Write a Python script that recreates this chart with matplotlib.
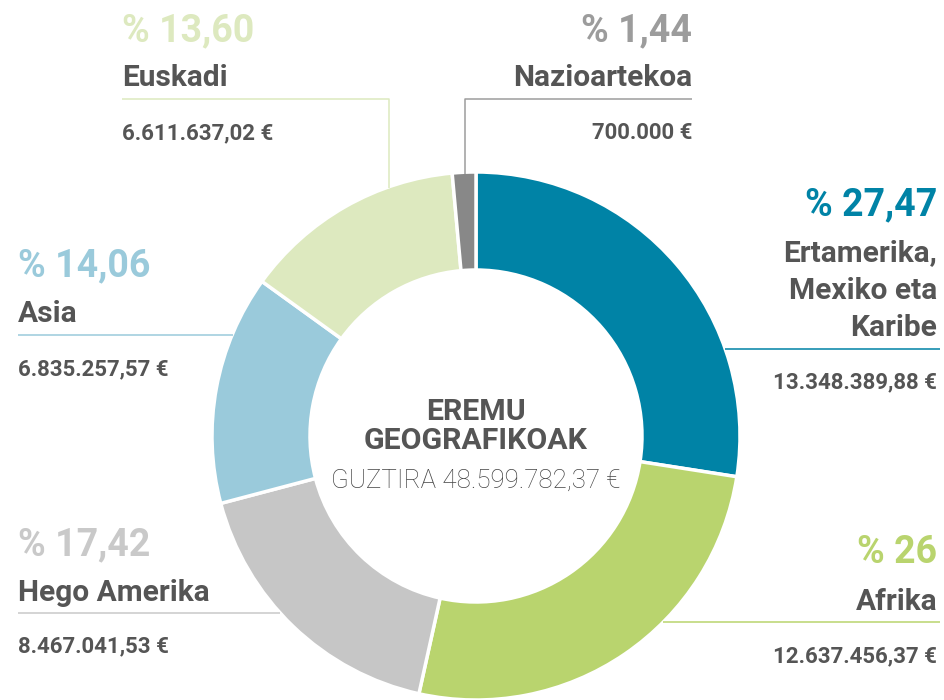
import matplotlib
matplotlib.use("Agg")
import matplotlib.pyplot as plt

# data, clockwise from the top
regions = ["Ertamerika,\nMexiko eta\nKaribe", "Afrika", "Hego Amerika",
           "Asia", "Euskadi", "Nazioartekoa"]
amounts = [13348389.88, 12637456.37, 8467041.53, 6835257.57, 6611637.02, 700000.00]
pct_labels = ["% 27,47", "% 26", "% 17,42", "% 14,06", "% 13,60", "% 1,44"]
amount_labels = ["13.348.389,88 €", "12.637.456,37 €", "8.467.041,53 €",
                 "6.835.257,57 €", "6.611.637,02 €", "700.000 €"]
total_label = "GUZTIRA 48.599.782,37 €"

slice_colors = ["#0083a6", "#b9d46e", "#c6c6c6", "#9acadb", "#dde9bf", "#888888"]
pct_colors = ["#0083a6", "#b9d46e", "#c9c9c9", "#9acadb", "#dde9bf", "#9c9c9c"]
line_colors = ["#0083a6", "#b9d46e", "#c9c9c9", "#9acadb", "#dde9bf", "#9c9c9c"]

TEXT = "#555555"
W, H = 944, 700


def Y(y):
    # pixel row (from top) -> data y
    return H - y


plt.rcParams["font.family"] = ["Roboto", "DejaVu Sans"]

fig = plt.figure(figsize=(W / 100, H / 100), dpi=100)
ax = fig.add_axes([0, 0, 1, 1])

cx, cy, r_out = 476, 436, 264
ax.pie(amounts, colors=slice_colors, startangle=90, counterclock=False,
       center=(cx, Y(cy)), radius=r_out,
       wedgeprops=dict(width=98, edgecolor="white", linewidth=2.5))

ax.set_xlim(0, W)
ax.set_ylim(0, H)
ax.set_aspect("equal")
ax.axis("off")

# label layout: (x, align, pct baseline, first name baseline, value baseline)
layout = [
    (937, "right", 215, 261, 388),
    (937, "right", 563, 610, 662),
    (18, "left", 555, 601, 652),
    (18, "left", 276, 322, 375),
    (122, "left", 41, 86, 139),
    (692, "right", 41, 86, 139),
]
# leader lines in pixel coords
leaders = [
    [(725, 349), (940, 349)],
    [(663, 622), (940, 622)],
    [(18, 613), (280, 613)],
    [(18, 335), (233, 335)],
    [(122, 99), (389, 99), (389, 188)],
    [(692, 99), (465, 99), (465, 174)],
]

for i in range(len(regions)):
    x, ha, y_pct, y_name, y_val = layout[i]
    ax.text(x, Y(y_pct), pct_labels[i], ha=ha, va="baseline",
            fontsize=27, fontweight="bold", color=pct_colors[i])
    name_lines = regions[i].split("\n")
    for k, line in enumerate(name_lines):
        ax.text(x, Y(y_name + k * 37.7), line, ha=ha, va="baseline",
                fontsize=21.5, fontweight="bold", color=TEXT)
    ax.text(x, Y(y_val), amount_labels[i], ha=ha, va="baseline",
            fontsize=16, fontweight="bold", color=TEXT)
    pts = leaders[i]
    ax.plot([p[0] for p in pts], [Y(p[1]) for p in pts],
            color=line_colors[i], linewidth=1.1, solid_capstyle="butt")

ax.text(cx, Y(420), "EREMU", ha="center", va="baseline",
        fontsize=21.8, fontweight="bold", color=TEXT)
ax.text(cx, Y(449), "GEOGRAFIKOAK", ha="center", va="baseline",
        fontsize=21.8, fontweight="bold", color=TEXT)
ax.text(cx, Y(488), total_label, ha="center", va="baseline",
        fontsize=18.6, fontweight="light", color="#444444")

fig.savefig("out.png", dpi=100)
